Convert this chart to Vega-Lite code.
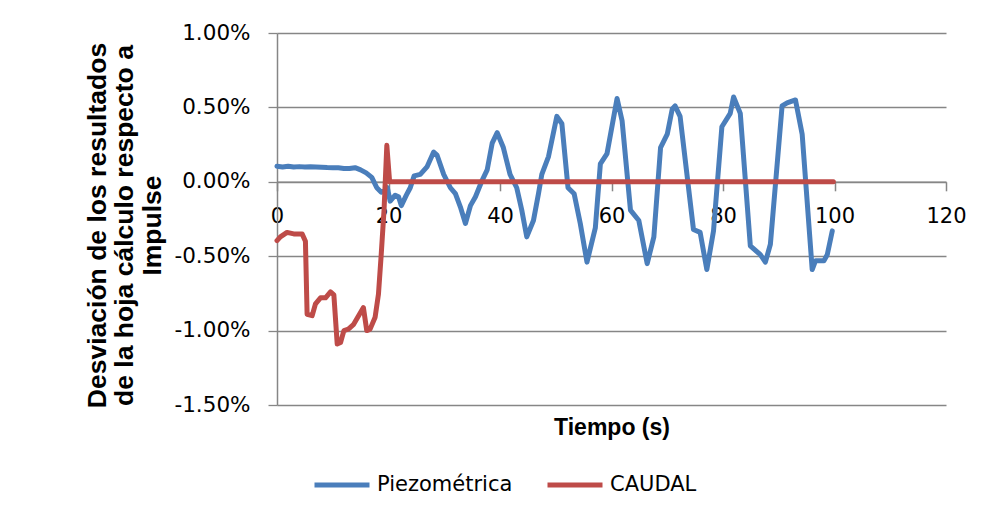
{
  "$schema": "https://vega.github.io/schema/vega-lite/v6.json",
  "autosize": "none",
  "padding": {"left": 277, "top": 33, "right": 38, "bottom": 109},
  "width": 669,
  "height": 372,
  "background": "white",
  "config": {
    "view": {"stroke": null},
    "font": "DejaVu Sans"
  },
  "data": {
    "values": [
      {"t": 0, "v": 0.00105, "serie": "Piezométrica"},
      {"t": 1, "v": 0.00100, "serie": "Piezométrica"},
      {"t": 2, "v": 0.00105, "serie": "Piezométrica"},
      {"t": 3, "v": 0.00100, "serie": "Piezométrica"},
      {"t": 4, "v": 0.00102, "serie": "Piezométrica"},
      {"t": 5, "v": 0.00100, "serie": "Piezométrica"},
      {"t": 6, "v": 0.00101, "serie": "Piezométrica"},
      {"t": 7, "v": 0.00100, "serie": "Piezométrica"},
      {"t": 8, "v": 0.00098, "serie": "Piezométrica"},
      {"t": 9, "v": 0.00096, "serie": "Piezométrica"},
      {"t": 10, "v": 0.00095, "serie": "Piezométrica"},
      {"t": 11, "v": 0.00094, "serie": "Piezométrica"},
      {"t": 12, "v": 0.00090, "serie": "Piezométrica"},
      {"t": 13, "v": 0.00090, "serie": "Piezométrica"},
      {"t": 14, "v": 0.00095, "serie": "Piezométrica"},
      {"t": 15, "v": 0.00080, "serie": "Piezométrica"},
      {"t": 16, "v": 0.00060, "serie": "Piezométrica"},
      {"t": 17, "v": 0.00030, "serie": "Piezométrica"},
      {"t": 17.9, "v": -0.00040, "serie": "Piezométrica"},
      {"t": 18.7, "v": -0.00070, "serie": "Piezométrica"},
      {"t": 19.3, "v": -0.00060, "serie": "Piezométrica"},
      {"t": 19.8, "v": -0.00040, "serie": "Piezométrica"},
      {"t": 20.3, "v": -0.00130, "serie": "Piezométrica"},
      {"t": 21.2, "v": -0.00090, "serie": "Piezométrica"},
      {"t": 21.8, "v": -0.00100, "serie": "Piezométrica"},
      {"t": 22.3, "v": -0.00160, "serie": "Piezométrica"},
      {"t": 23.2, "v": -0.00090, "serie": "Piezométrica"},
      {"t": 23.9, "v": -0.00040, "serie": "Piezométrica"},
      {"t": 24.6, "v": 0.00040, "serie": "Piezométrica"},
      {"t": 25.7, "v": 0.00050, "serie": "Piezométrica"},
      {"t": 26.9, "v": 0.00100, "serie": "Piezométrica"},
      {"t": 28.1, "v": 0.00200, "serie": "Piezométrica"},
      {"t": 28.7, "v": 0.00180, "serie": "Piezométrica"},
      {"t": 29.9, "v": 0.00050, "serie": "Piezométrica"},
      {"t": 31.1, "v": -0.00040, "serie": "Piezométrica"},
      {"t": 32.0, "v": -0.00080, "serie": "Piezométrica"},
      {"t": 32.9, "v": -0.00170, "serie": "Piezométrica"},
      {"t": 33.8, "v": -0.00280, "serie": "Piezométrica"},
      {"t": 34.7, "v": -0.00160, "serie": "Piezométrica"},
      {"t": 35.6, "v": -0.00100, "serie": "Piezométrica"},
      {"t": 36.8, "v": 0.00010, "serie": "Piezométrica"},
      {"t": 37.7, "v": 0.00080, "serie": "Piezométrica"},
      {"t": 38.6, "v": 0.00260, "serie": "Piezométrica"},
      {"t": 39.5, "v": 0.00330, "serie": "Piezométrica"},
      {"t": 40.6, "v": 0.00230, "serie": "Piezométrica"},
      {"t": 41.8, "v": 0.00050, "serie": "Piezométrica"},
      {"t": 43.0, "v": -0.00040, "serie": "Piezométrica"},
      {"t": 43.9, "v": -0.00190, "serie": "Piezométrica"},
      {"t": 44.8, "v": -0.00370, "serie": "Piezométrica"},
      {"t": 46.0, "v": -0.00260, "serie": "Piezométrica"},
      {"t": 46.9, "v": -0.00080, "serie": "Piezométrica"},
      {"t": 47.5, "v": 0.00050, "serie": "Piezométrica"},
      {"t": 48.7, "v": 0.00170, "serie": "Piezométrica"},
      {"t": 50.2, "v": 0.00440, "serie": "Piezométrica"},
      {"t": 51.1, "v": 0.00390, "serie": "Piezométrica"},
      {"t": 52.2, "v": -0.00040, "serie": "Piezométrica"},
      {"t": 53.3, "v": -0.00080, "serie": "Piezométrica"},
      {"t": 54.4, "v": -0.00280, "serie": "Piezométrica"},
      {"t": 55.6, "v": -0.00540, "serie": "Piezométrica"},
      {"t": 57.1, "v": -0.00310, "serie": "Piezométrica"},
      {"t": 58.0, "v": 0.00120, "serie": "Piezométrica"},
      {"t": 59.2, "v": 0.00190, "serie": "Piezométrica"},
      {"t": 61.0, "v": 0.00560, "serie": "Piezométrica"},
      {"t": 61.9, "v": 0.00410, "serie": "Piezométrica"},
      {"t": 63.4, "v": -0.00190, "serie": "Piezométrica"},
      {"t": 64.9, "v": -0.00260, "serie": "Piezométrica"},
      {"t": 66.4, "v": -0.00550, "serie": "Piezométrica"},
      {"t": 67.6, "v": -0.00370, "serie": "Piezométrica"},
      {"t": 68.8, "v": 0.00230, "serie": "Piezométrica"},
      {"t": 70.0, "v": 0.00320, "serie": "Piezométrica"},
      {"t": 70.9, "v": 0.00490, "serie": "Piezométrica"},
      {"t": 71.4, "v": 0.00510, "serie": "Piezométrica"},
      {"t": 72.3, "v": 0.00440, "serie": "Piezométrica"},
      {"t": 74.7, "v": -0.00320, "serie": "Piezométrica"},
      {"t": 75.9, "v": -0.00340, "serie": "Piezométrica"},
      {"t": 77.1, "v": -0.00590, "serie": "Piezométrica"},
      {"t": 78.3, "v": -0.00330, "serie": "Piezométrica"},
      {"t": 79.8, "v": 0.00370, "serie": "Piezométrica"},
      {"t": 81.3, "v": 0.00460, "serie": "Piezométrica"},
      {"t": 81.9, "v": 0.00570, "serie": "Piezométrica"},
      {"t": 83.1, "v": 0.00460, "serie": "Piezométrica"},
      {"t": 84.9, "v": -0.00430, "serie": "Piezométrica"},
      {"t": 86.7, "v": -0.00490, "serie": "Piezométrica"},
      {"t": 87.6, "v": -0.00540, "serie": "Piezométrica"},
      {"t": 88.5, "v": -0.00420, "serie": "Piezométrica"},
      {"t": 90.6, "v": 0.00510, "serie": "Piezométrica"},
      {"t": 91.5, "v": 0.00530, "serie": "Piezométrica"},
      {"t": 93.0, "v": 0.00550, "serie": "Piezométrica"},
      {"t": 94.2, "v": 0.00320, "serie": "Piezométrica"},
      {"t": 96.0, "v": -0.00590, "serie": "Piezométrica"},
      {"t": 96.6, "v": -0.00530, "serie": "Piezométrica"},
      {"t": 98.1, "v": -0.00530, "serie": "Piezométrica"},
      {"t": 98.7, "v": -0.00490, "serie": "Piezométrica"},
      {"t": 99.6, "v": -0.00330, "serie": "Piezométrica"},
      {"t": 0, "v": -0.00395, "serie": "CAUDAL"},
      {"t": 0.6, "v": -0.00370, "serie": "CAUDAL"},
      {"t": 1.8, "v": -0.00340, "serie": "CAUDAL"},
      {"t": 3.0, "v": -0.00350, "serie": "CAUDAL"},
      {"t": 4.5, "v": -0.00350, "serie": "CAUDAL"},
      {"t": 5.1, "v": -0.00400, "serie": "CAUDAL"},
      {"t": 5.4, "v": -0.00890, "serie": "CAUDAL"},
      {"t": 6.3, "v": -0.00900, "serie": "CAUDAL"},
      {"t": 6.9, "v": -0.00820, "serie": "CAUDAL"},
      {"t": 7.8, "v": -0.00780, "serie": "CAUDAL"},
      {"t": 8.7, "v": -0.00780, "serie": "CAUDAL"},
      {"t": 9.6, "v": -0.00740, "serie": "CAUDAL"},
      {"t": 10.2, "v": -0.00760, "serie": "CAUDAL"},
      {"t": 10.8, "v": -0.01090, "serie": "CAUDAL"},
      {"t": 11.4, "v": -0.01080, "serie": "CAUDAL"},
      {"t": 12.0, "v": -0.01000, "serie": "CAUDAL"},
      {"t": 12.8, "v": -0.00990, "serie": "CAUDAL"},
      {"t": 13.7, "v": -0.00960, "serie": "CAUDAL"},
      {"t": 15.5, "v": -0.00845, "serie": "CAUDAL"},
      {"t": 16.1, "v": -0.01000, "serie": "CAUDAL"},
      {"t": 16.7, "v": -0.00990, "serie": "CAUDAL"},
      {"t": 17.6, "v": -0.00910, "serie": "CAUDAL"},
      {"t": 18.2, "v": -0.00755, "serie": "CAUDAL"},
      {"t": 18.7, "v": -0.00485, "serie": "CAUDAL"},
      {"t": 19.2, "v": -0.00190, "serie": "CAUDAL"},
      {"t": 19.7, "v": 0.00245, "serie": "CAUDAL"},
      {"t": 20.2, "v": 0.0, "serie": "CAUDAL"},
      {"t": 40, "v": 0.0, "serie": "CAUDAL"},
      {"t": 60, "v": 0.0, "serie": "CAUDAL"},
      {"t": 80, "v": 0.0, "serie": "CAUDAL"},
      {"t": 99.8, "v": 0.0, "serie": "CAUDAL"}
    ]
  },
  "encoding": {
    "x": {
      "field": "t",
      "type": "quantitative",
      "scale": {"domain": [0, 120], "nice": false, "zero": false},
      "axis": {
        "values": [0, 20, 40, 60, 80, 100, 120],
        "offset": -223.2,
        "title": "Tiempo (s)",
        "titleFont": "Liberation Sans",
        "titleFontSize": 23,
        "titleFontWeight": "bold",
        "titleColor": "#000000",
        "titleBaseline": "alphabetic",
        "titleY": 253,
        "titleX": 334.5,
        "grid": false,
        "domainColor": "#868686",
        "domainWidth": 1.5,
        "tickColor": "#868686",
        "tickWidth": 1.5,
        "tickSize": 9,
        "labelFont": "DejaVu Sans",
        "labelFontSize": 21,
        "labelColor": "#000000",
        "labelPadding": 15,
        "labelFlush": false,
        "labelOverlap": false
      }
    },
    "y": {
      "field": "v",
      "type": "quantitative",
      "scale": {"domain": [-0.015, 0.01], "nice": false, "zero": false},
      "axis": {
        "values": [-0.015, -0.01, -0.005, 0, 0.005, 0.01],
        "format": ".2%",
        "labelExpr": "replace(datum.label, '−', '-')",
        "title": ["Desviación de los resultados", "de la  hoja cálculo respecto a", "Impulse"],
        "titleFont": "Liberation Sans",
        "titleFontSize": 26.5,
        "titleFontWeight": "bold",
        "titleColor": "#000000",
        "titleLineHeight": 27.5,
        "titleAngle": -90,
        "titleBaseline": "middle",
        "titleAlign": "center",
        "titleX": -180,
        "titleY": 192,
        "grid": true,
        "gridColor": "#868686",
        "gridWidth": 1.3,
        "domainColor": "#868686",
        "domainWidth": 1.5,
        "tickColor": "#868686",
        "tickWidth": 1.3,
        "tickSize": 9,
        "labelFont": "DejaVu Sans",
        "labelFontSize": 21.5,
        "labelColor": "#000000",
        "labelPadding": 18,
        "labelFlush": false,
        "labelOverlap": false
      }
    },
    "color": {
      "field": "serie",
      "type": "nominal",
      "scale": {"domain": ["Piezométrica", "CAUDAL"], "range": ["#4A7EBB", "#BE4B48"]},
      "legend": {
        "title": null,
        "orient": "none",
        "direction": "horizontal",
        "legendX": 35,
        "legendY": 422,
        "symbolType": "stroke",
        "symbolSize": 3025,
        "symbolStrokeWidth": 5,
        "labelFont": "DejaVu Sans",
        "labelFontSize": 21,
        "labelColor": "#000000",
        "labelOffset": 5,
        "columnPadding": 24,
        "padding": 0
      }
    }
  },
  "layer": [
    {
      "transform": [{"filter": "datum.serie == 'Piezométrica'"}],
      "mark": {"type": "line", "strokeWidth": 5, "strokeJoin": "round", "strokeCap": "round"}
    },
    {
      "transform": [{"filter": "datum.serie == 'CAUDAL'"}],
      "mark": {"type": "line", "strokeWidth": 5, "strokeJoin": "round", "strokeCap": "round"}
    }
  ]
}
